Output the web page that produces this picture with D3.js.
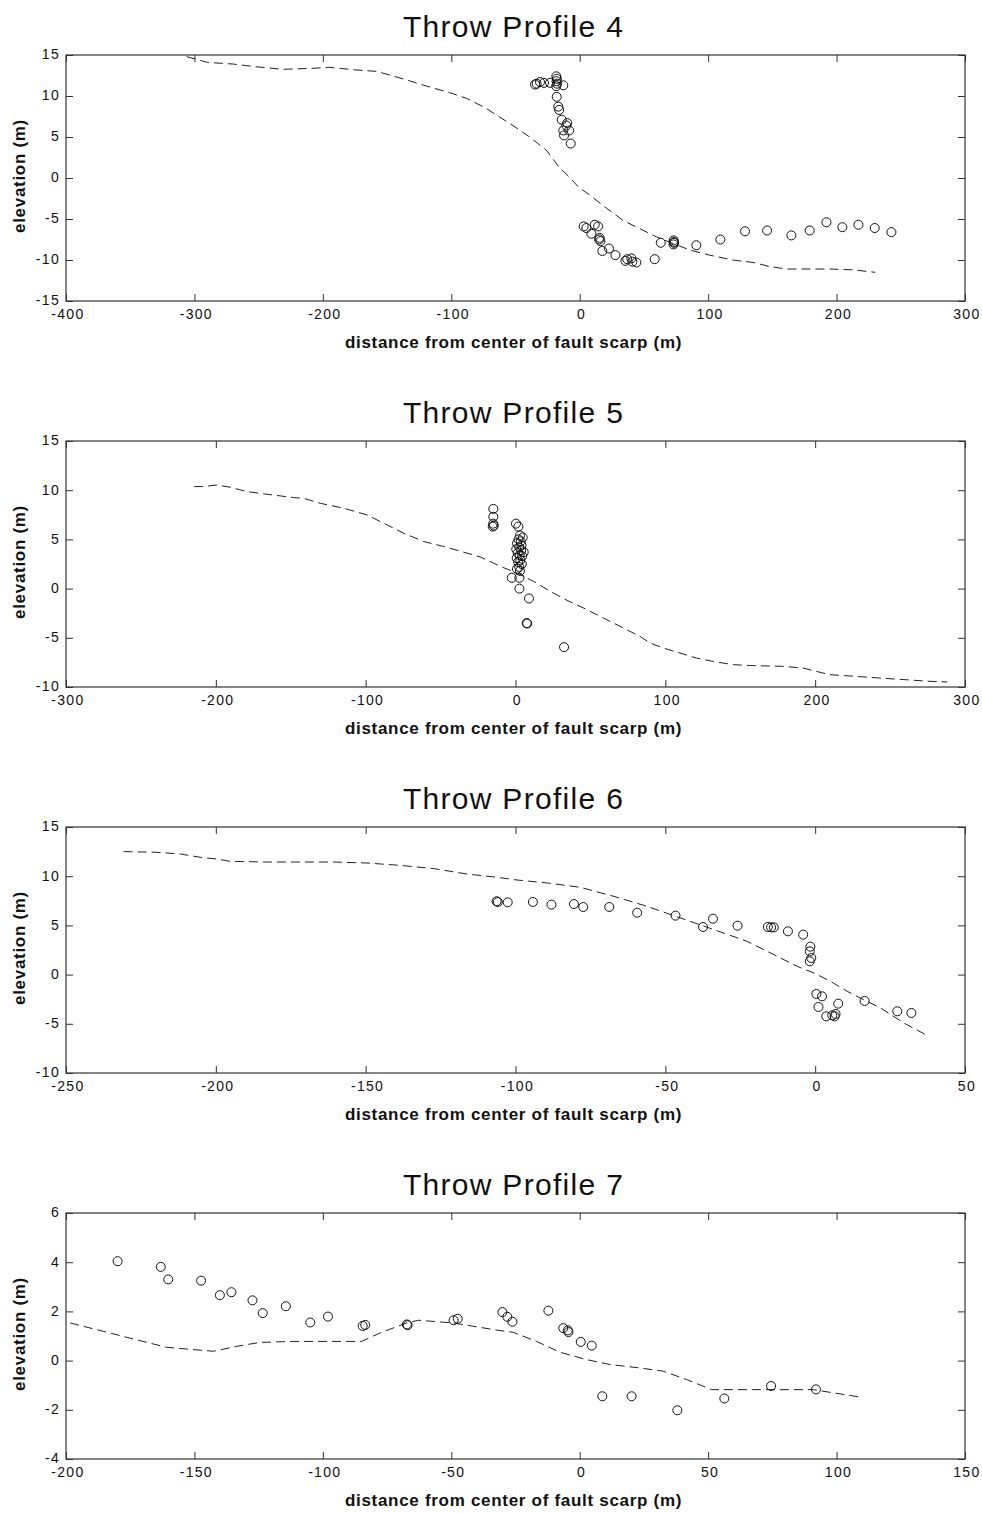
<!DOCTYPE html>
<html>
<head>
<meta charset="utf-8">
<script src="https://cdn.jsdelivr.net/npm/d3@7"></script>
<style>
  html, body { margin: 0; padding: 0; background: #fff; }
  svg { display: block; }
  .tick text { font-family: "Liberation Sans", Arial, sans-serif; font-size: 14px; letter-spacing: 1.3px; fill: #111; }
</style>
</head>
<body>
<svg id="chart" width="982" height="1513"></svg>
<script>
// ---------- Data ----------
const titles = ["Throw Profile 4", "Throw Profile 5", "Throw Profile 6", "Throw Profile 7"];
const xLabel = "distance from center of fault scarp (m)";
const yLabel = "elevation (m)";

const xDomains = [[-400, 300], [-300, 300], [-250, 50], [-200, 150]];
const yDomains = [[-15, 15], [-10, 15], [-10, 15], [-4, 6]];
const xTicks = [
  [-400, -300, -200, -100, 0, 100, 200, 300],
  [-300, -200, -100, 0, 100, 200, 300],
  [-250, -200, -150, -100, -50, 0, 50],
  [-200, -150, -100, -50, 0, 50, 100, 150]
];
const yTicks = [
  [-15, -10, -5, 0, 5, 10, 15],
  [-10, -5, 0, 5, 10, 15],
  [-10, -5, 0, 5, 10, 15],
  [-4, -2, 0, 2, 4, 6]
];

// Profile 4
const line4 = [[-306,14.8],[-290,14.1],[-270,13.9],[-254,13.6],[-231,13.25],[-205,13.4],[-195,13.5],[-176,13.2],[-158,13.0],[-140,12.2],[-119,11.2],[-101,10.4],[-88,9.7],[-74,8.6],[-66,7.8],[-52,6.4],[-39,5.0],[-26,3.4],[-16,1.3],[-8,0.1],[-1,-1.1],[8,-2.1],[21,-3.7],[34,-5.2],[47,-6.2],[60,-7.2],[73,-8.0],[86,-8.8],[101,-9.4],[119,-10.0],[135,-10.3],[148,-10.8],[161,-11.1],[171,-11.1],[195,-11.1],[213,-11.2],[230,-11.5]];
const pts4 = [[-34.8,11.4],[-33.5,11.5],[-30.9,11.7],[-27.8,11.6],[-23.1,11.6],[-18.2,12.4],[-17.8,12.1],[-18.0,11.8],[-17.6,11.5],[-18.3,11.2],[-12.8,11.3],[-17.9,9.9],[-16.7,8.7],[-16.0,8.3],[-14.0,7.1],[-9.7,6.7],[-10.5,6.4],[-12.8,5.8],[-8.2,5.8],[-12.2,5.2],[-7.0,4.2],
  [3.1,-5.9],[5.2,-6.1],[9.1,-6.8],[11.7,-5.7],[14.3,-5.9],[15.1,-7.5],[16.1,-7.7],[15.5,-7.3],[17.6,-8.9],[22.8,-8.6],[27.8,-9.4],[35.6,-10.1],[37,-9.9],[40.2,-9.8],[41,-10.2],[44.1,-10.3],[58.4,-9.9],[63.1,-7.9],[73.2,-7.6],[73.4,-7.9],[73.0,-8.1],[73.3,-7.8],[90.8,-8.2],[109.5,-7.5],[128.7,-6.5],[145.9,-6.4],[164.8,-7.0],[179.1,-6.4],[192.1,-5.4],[204.5,-6.0],[217,-5.7],[229.7,-6.1],[242.7,-6.6]];

// Profile 5
const line5 = [[-214.5,10.37],[-208,10.37],[-199.3,10.53],[-190.4,10.3],[-179.3,9.86],[-165.9,9.59],[-148.1,9.25],[-141.4,9.18],[-130.3,8.67],[-114.7,8.17],[-99.1,7.49],[-88,6.64],[-74.6,5.63],[-61.2,4.78],[-47.9,4.28],[-23.5,3.22],[-10,2.25],[1.1,1.57],[12.2,0.72],[23.3,-0.29],[34.4,-1.2],[45.5,-1.98],[58.8,-3.0],[72.1,-4.01],[83.1,-4.86],[89.8,-5.53],[98.7,-6.04],[109.8,-6.55],[120.8,-7.06],[131.9,-7.4],[145.2,-7.73],[158.5,-7.83],[178.3,-7.9],[191.8,-8.07],[200.7,-8.41],[209.6,-8.75],[227.3,-8.92],[242.8,-9.09],[260.5,-9.26],[276,-9.42],[288.2,-9.49]];
const pts5 = [[-14.8,8.1],[-14.8,7.3],[-14.9,6.6],[-15.2,6.3],[-14.5,6.4],[0.3,6.6],[1.9,6.3],[3.0,5.4],[4.8,5.2],[2.0,5.0],[3.5,4.8],[1.0,4.6],[4.0,4.4],[2.5,4.2],[0.5,4.0],[3.8,3.9],[5.5,3.7],[1.5,3.6],[2.8,3.4],[4.5,3.3],[0.8,3.1],[3.2,2.9],[1.8,2.7],[4.2,2.5],[2.5,2.2],[1.0,2.0],[3.0,1.8],[-2.5,1.1],[2.6,1.1],[2.6,0.0],[9.0,-1.0],[7.5,-3.5],[7.8,-3.55],[32.4,-5.95]];

// Profile 6
const line6 = [[-230.8,12.5],[-219.7,12.43],[-211.9,12.26],[-205.2,11.92],[-199.7,11.75],[-195.2,11.51],[-183,11.44],[-160.7,11.44],[-149.6,11.34],[-138.4,11.1],[-127.3,10.77],[-116.1,10.22],[-105,9.85],[-100.6,9.65],[-89.4,9.31],[-78.3,8.87],[-67.2,7.95],[-56.1,6.94],[-44.9,5.75],[-33.8,4.57],[-22.7,3.38],[-13.8,2.03],[-6,0.84],[-0.4,0.16],[5.1,-0.68],[10.7,-1.7],[16.2,-2.55],[21.8,-3.39],[29.6,-4.92],[37.9,-6.27]];
const pts6 = [[-106.3,7.45],[-105.9,7.38],[-102.6,7.34],[-94.2,7.38],[-88,7.11],[-80.5,7.17],[-77.4,6.87],[-68.7,6.87],[-59.4,6.29],[-46.6,5.99],[-37.4,4.84],[-34.1,5.68],[-25.9,4.97],[-15.8,4.84],[-14.7,4.8],[-13.8,4.8],[-9.1,4.4],[-4,4.06],[-1.6,2.84],[-1.8,2.36],[-1.3,1.69],[-1.8,1.35],[0.4,-1.97],[2.3,-2.21],[1.1,-3.29],[3.7,-4.24],[5.7,-4.14],[6.8,-4.0],[6.5,-4.24],[7.7,-2.95],[16.5,-2.68],[27.4,-3.73],[32.1,-3.9]];

// Profile 7
const line7 = [[-198.4,1.53],[-185.5,1.19],[-173.8,0.88],[-160.8,0.54],[-153,0.47],[-142.6,0.38],[-133.5,0.58],[-124.5,0.74],[-111.5,0.78],[-84.9,0.78],[-77.8,1.12],[-67.4,1.53],[-62.8,1.64],[-49.2,1.53],[-33.6,1.26],[-25.9,1.15],[-16.8,0.78],[-7.7,0.34],[2.7,0.04],[11.8,-0.16],[23.5,-0.3],[32.5,-0.43],[41.6,-0.77],[51.4,-1.18],[67.3,-1.18],[90.9,-1.18],[98.7,-1.31],[108.5,-1.47]];
const pts7 = [[-179.9,4.04],[-163.1,3.81],[-160.2,3.3],[-147.4,3.25],[-140.1,2.66],[-135.6,2.78],[-127.4,2.45],[-123.4,1.93],[-114.4,2.21],[-104.9,1.55],[-98,1.79],[-84.5,1.41],[-83.5,1.45],[-67.3,1.47],[-67.0,1.44],[-49.1,1.64],[-47.5,1.70],[-30.1,1.97],[-28.2,1.78],[-26.2,1.58],[-12.2,2.03],[-6.4,1.32],[-4.6,1.23],[-4.4,1.16],[0.4,0.76],[4.7,0.61],[8.8,-1.45],[20.2,-1.45],[38,-2.02],[56.3,-1.54],[74.5,-1.03],[92,-1.17]];

const lines = [line4, line5, line6, line7];
const points = [pts4, pts5, pts6, pts7];

// ---------- Layout ----------
const svg = d3.select("#chart");
const left = 66, right = 965;
const panelTops = [55, 441, 827, 1213];
const plotH = 246;
const fontMain = '"Liberation Sans", Arial, Helvetica, sans-serif';
const tickLen = 7;
const fmt = d => String(d);

titles.forEach((title, i) => {
  const top = panelTops[i], bottom = top + plotH;
  const x = d3.scaleLinear().domain(xDomains[i]).range([left, right]);
  const y = d3.scaleLinear().domain(yDomains[i]).range([bottom, top]);
  const g = svg.append("g");

  // axes
  const axB = g.append("g").attr("transform", `translate(0,${bottom})`)
    .call(d3.axisBottom(x).tickValues(xTicks[i]).tickFormat(fmt).tickSizeInner(-tickLen).tickSizeOuter(0).tickPadding(8));
  const axT = g.append("g").attr("transform", `translate(0,${top})`)
    .call(d3.axisTop(x).tickValues(xTicks[i]).tickFormat("").tickSizeInner(-tickLen).tickSizeOuter(0));
  const axL = g.append("g").attr("transform", `translate(${left},0)`)
    .call(d3.axisLeft(y).tickValues(yTicks[i]).tickFormat(fmt).tickSizeInner(-tickLen).tickSizeOuter(0).tickPadding(6));
  const axR = g.append("g").attr("transform", `translate(${right},0)`)
    .call(d3.axisRight(y).tickValues(yTicks[i]).tickFormat("").tickSizeInner(-tickLen).tickSizeOuter(0));
  [axB, axT, axL, axR].forEach(a => {
    a.select(".domain").remove();
    a.selectAll(".tick line").attr("stroke", "#333").attr("stroke-width", 1);
    a.selectAll(".tick text").attr("fill", "#111");
  });
  axB.selectAll(".tick text").attr("dy", "0.72em").attr("dx", "0.1em");
  axL.selectAll(".tick text").attr("dy", "0.28em");

  // box
  g.append("rect").attr("x", left).attr("y", top).attr("width", right - left).attr("height", plotH)
    .attr("fill", "none").attr("stroke", "#333").attr("stroke-width", 1.2);

  // dashed profile line
  g.append("path").datum(lines[i])
    .attr("d", d3.line().x(d => x(d[0])).y(d => y(d[1])))
    .attr("fill", "none").attr("stroke", "#222").attr("stroke-width", 1)
    .attr("stroke-dasharray", "9,5");

  // circle markers
  g.append("g").selectAll("circle").data(points[i]).join("circle")
    .attr("cx", d => x(d[0])).attr("cy", d => y(d[1])).attr("r", 4.5)
    .attr("fill", "none").attr("stroke", "#111").attr("stroke-width", 1);

  // title
  g.append("text").attr("x", (left + right) / 2 - 2).attr("y", top - 18)
    .attr("text-anchor", "middle").attr("font-family", fontMain).attr("font-size", 30)
    .attr("letter-spacing", "1.3px").attr("fill", "#111").text(title);

  // x label
  g.append("text").attr("x", (left + right) / 2 - 2).attr("y", bottom + 47)
    .attr("text-anchor", "middle").attr("font-family", fontMain).attr("font-size", 17)
    .attr("letter-spacing", "0.7px")
    .attr("font-weight", "bold").attr("fill", "#111").text(xLabel);

  // y label
  g.append("text").attr("transform", `translate(25,${(top + bottom) / 2 - 2}) rotate(-90)`)
    .attr("text-anchor", "middle").attr("font-family", fontMain).attr("font-size", 17)
    .attr("letter-spacing", "0.7px")
    .attr("font-weight", "bold").attr("fill", "#111").text(yLabel);
});
</script>
</body>
</html>
